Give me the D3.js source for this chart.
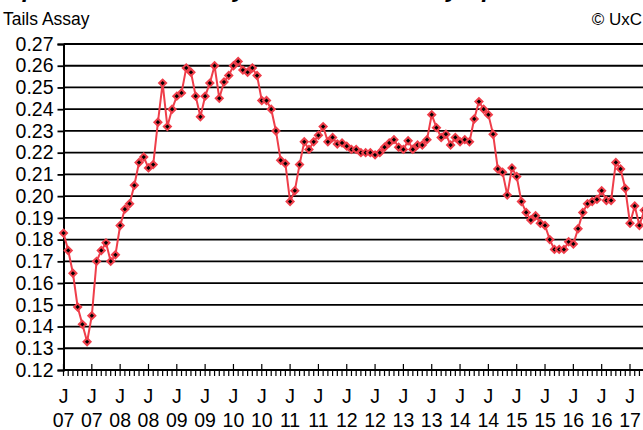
<!DOCTYPE html>
<html>
<head>
<meta charset="utf-8">
<script src="https://cdn.jsdelivr.net/npm/d3@7"></script>
<style>
  body { margin: 0; background: #fff; }
  svg { display: block; font-family: "Liberation Sans", Arial, sans-serif; }
</style>
</head>
<body>
<div id="chart"></div>
<script>
// monthly tails assay, Jan 2007 onward
const startYear = 2007
const assay = [
  0.183, 0.175, 0.1645, 0.149, 0.141, 0.133, 0.145, 0.170, 0.175, 0.1785, 0.170, 0.173,
  0.1865, 0.194, 0.1965, 0.205, 0.2155, 0.218, 0.213, 0.2145, 0.234, 0.252, 0.232, 0.240,
  0.246, 0.2475, 0.259, 0.257, 0.246, 0.2365, 0.246, 0.252, 0.260, 0.245, 0.2525, 0.2555,
  0.260, 0.262, 0.258, 0.257, 0.259, 0.2555, 0.244, 0.244, 0.240, 0.230, 0.2165, 0.215,
  0.1975, 0.2025, 0.2145, 0.225, 0.2215, 0.225, 0.228, 0.232, 0.225, 0.227, 0.224, 0.2245,
  0.223, 0.2215, 0.2215, 0.220, 0.220, 0.220, 0.219, 0.220, 0.2225, 0.2245, 0.226, 0.2225,
  0.2215, 0.2255, 0.2215, 0.2235, 0.2235, 0.226, 0.2375, 0.2315, 0.227, 0.2285, 0.2235, 0.227,
  0.225, 0.226, 0.225, 0.2355, 0.2435, 0.240, 0.2375, 0.2285, 0.2125, 0.211, 0.2005, 0.213,
  0.209, 0.1975, 0.1925, 0.189, 0.191, 0.1875, 0.1865, 0.180, 0.1755, 0.1755, 0.1755, 0.179,
  0.178, 0.185, 0.1925, 0.1965, 0.1975, 0.1985, 0.2025, 0.198, 0.198, 0.2155, 0.2125, 0.2035,
  0.1875, 0.1955, 0.1865, 0.1935
]
const yTicks = [0.12, 0.13, 0.14, 0.15, 0.16, 0.17, 0.18, 0.19, 0.20, 0.21, 0.22, 0.23, 0.24, 0.25, 0.26, 0.27]
const titleText = "Optimum Tails Assay Based on Monthly Spot Prices"
const unitText = "Tails Assay"
const creditText = "\u00A9 UxC"

const width = 643
const height = 430
const red = "#ef3e4a"

const svg = d3.select("#chart").append("svg")
  .attr("width", width)
  .attr("height", height)

const x = d3.scaleLinear()
  .domain([0, 120])
  .range([63.5, 630])

const y = d3.scaleLinear()
  .domain([0.12, 0.27])
  .range([370, 44])

// titles (main title sits above the frame, only descenders show)
svg.append("text")
  .attr("x", 4).attr("y", -3)
  .attr("font-size", 24).attr("font-weight", "bold").attr("font-style", "italic")
  .text(titleText)

svg.append("text")
  .attr("x", 3).attr("y", 25)
  .attr("font-size", 17.5)
  .text(unitText)

svg.append("text")
  .attr("x", 642).attr("y", 25)
  .attr("text-anchor", "end")
  .attr("font-size", 17)
  .text(creditText)

// gridlines + y labels
const yAxis = svg.append("g")
  .attr("transform", "translate(63.5,0)")
  .call(d3.axisLeft(y).tickValues(yTicks).tickFormat(d3.format(".2f")).tickSize(6).tickPadding(4))
yAxis.select(".domain").attr("stroke", "#000").attr("stroke-width", 2)
yAxis.selectAll(".tick line").attr("stroke", "#000").attr("stroke-width", 1.8)
yAxis.selectAll(".tick text")
  .attr("font-size", 19.5).attr("fill", "#000")
  .attr("font-family", "Liberation Sans, Arial, sans-serif")

svg.append("g")
  .selectAll("line")
  .data(yTicks.slice(1))
  .join("line")
    .attr("x1", 63.5).attr("x2", width)
    .attr("y1", d => y(d)).attr("y2", d => y(d))
    .attr("stroke", "#000").attr("stroke-width", 1.8)

// x axis: minor monthly ticks, major every 6 months
const months = d3.range(0, assay.length)
const majors = months.filter(m => m % 6 === 0)

svg.append("line")
  .attr("x1", 63.5).attr("x2", width)
  .attr("y1", y(0.12)).attr("y2", y(0.12))
  .attr("stroke", "#000").attr("stroke-width", 2)

svg.append("g")
  .selectAll("line")
  .data(months)
  .join("line")
    .attr("x1", d => x(d)).attr("x2", d => x(d))
    .attr("y1", d => d % 6 === 0 ? 364 : 370)
    .attr("y2", 376)
    .attr("stroke", "#000").attr("stroke-width", 1.2)

const xl = svg.append("g")
  .selectAll("text")
  .data(majors)
  .join("text")
    .attr("text-anchor", "middle")
    .attr("font-size", 19.5)

xl.append("tspan")
  .attr("x", d => x(d)).attr("y", 403)
  .text("J")
xl.append("tspan")
  .attr("x", d => x(d)).attr("y", 427)
  .text(d => String((startYear + Math.floor(d / 12)) % 100).padStart(2, "0"))

// line + diamond markers
const line = d3.line()
  .x((d, i) => x(i))
  .y(d => y(d))

svg.append("path")
  .datum(assay)
  .attr("d", line)
  .attr("fill", "none")
  .attr("stroke", red)
  .attr("stroke-width", 2)

svg.append("g")
  .selectAll("rect")
  .data(assay)
  .join("rect")
    .attr("x", -2.5).attr("y", -2.5)
    .attr("width", 5).attr("height", 5)
    .attr("transform", (d, i) => `translate(${x(i)},${y(d)}) rotate(45)`)
    .attr("fill", "#000")
    .attr("stroke", red)
    .attr("stroke-width", 2)
</script>
</body>
</html>
